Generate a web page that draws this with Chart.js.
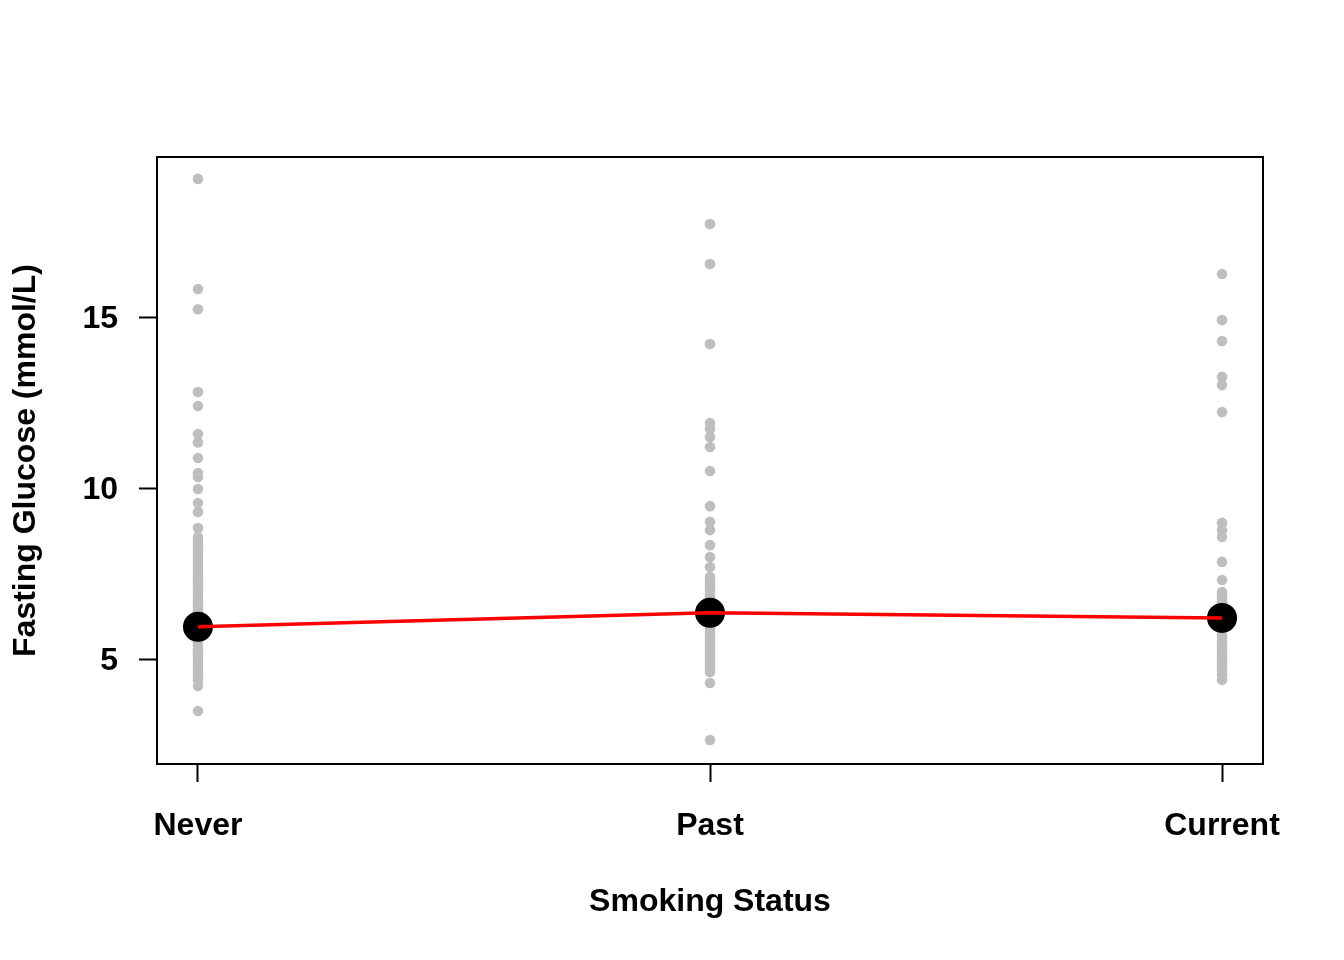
<!DOCTYPE html>
<html>
<head>
<meta charset="utf-8">
<script src="https://cdn.jsdelivr.net/npm/chart.js@4/dist/chart.umd.min.js"></script>
<style>
html,body{margin:0;padding:0;background:#fff;}
#wrap{width:1344px;height:960px;}
</style>
</head>
<body>
<div id="wrap"><canvas id="c" width="1344" height="960"></canvas></div>
<script>
const categories = ['Never', 'Past', 'Current'];
const yTickValues = [5, 10, 15];
const neverValues = [19.04, 15.82, 15.23, 12.81, 12.40, 11.58, 11.33, 10.88, 10.44, 10.32, 9.97, 9.56, 9.30, 8.83,
  8.57, 8.45, 8.33, 8.21, 8.10, 7.98, 7.87, 7.75, 7.62, 7.50, 7.40, 7.30, 7.20, 7.10, 7.00, 6.90, 6.80, 6.70,
  6.60, 6.50, 6.40, 6.30, 6.20, 6.10, 6.00, 5.90, 5.80, 5.70, 5.60, 5.50, 5.40, 5.30, 5.20, 5.10, 5.00, 4.90,
  4.80, 4.70, 4.60, 4.50, 4.39, 4.21, 3.48];
const pastValues = [17.72, 16.55, 14.21, 11.90, 11.73, 11.49, 11.20, 10.50, 9.47, 9.01, 8.77, 8.33, 7.98, 7.69,
  7.40, 7.30, 7.20, 7.10, 7.00, 6.90, 6.80, 6.70, 6.60, 6.50, 6.40, 6.30, 6.20, 6.10, 6.00, 5.90, 5.80, 5.70,
  5.60, 5.50, 5.40, 5.30, 5.20, 5.10, 5.00, 4.90, 4.80, 4.70, 4.62, 4.30, 2.63];
const currentValues = [16.26, 14.91, 14.30, 13.25, 13.01, 12.22, 8.98, 8.77, 8.57, 7.84, 7.31, 6.96, 6.85, 6.75,
  6.65, 6.55, 6.45, 6.35, 6.25, 6.15, 6.05, 5.95, 5.85, 5.75, 5.65, 5.55, 5.45, 5.35, 5.25, 5.15, 5.05, 4.95,
  4.85, 4.75, 4.65, 4.53, 4.39];
const meanValues = [5.94, 6.35, 6.20];

const groups = [neverValues, pastValues, currentValues];
const rawPoints = [];
groups.forEach((vals, i) => vals.forEach(v => rawPoints.push({x: i + 1, y: v})));
const meanPoints = meanValues.map((v, i) => ({x: i + 1, y: v}));

const FONT = {family: '"Liberation Sans", Arial, sans-serif', size: 32, weight: 'bold', lineHeight: 1.2};

const boxPlugin = {
  id: 'box',
  afterDraw(chart) {
    const {ctx, chartArea: a} = chart;
    ctx.save();
    ctx.strokeStyle = '#000';
    ctx.lineWidth = 2;
    ctx.strokeRect(a.left, a.top, a.right - a.left, a.bottom - a.top);
    ctx.restore();
  }
};

new Chart(document.getElementById('c'), {
  type: 'scatter',
  data: {
    datasets: [
      {data: meanPoints, showLine: true, borderColor: '#FF0000', borderWidth: 3.5, pointRadius: 0, order: 0},
      {data: meanPoints, pointRadius: 15, pointBackgroundColor: '#000', pointBorderWidth: 0, order: 1},
      {data: rawPoints, pointRadius: 5.3, pointBackgroundColor: '#BEBEBE', pointBorderWidth: 0, order: 2}
    ]
  },
  options: {
    responsive: false,
    animation: false,
    events: [],
    layout: {padding: {top: 157, right: 81, left: 0, bottom: 0}},
    plugins: {legend: {display: false}, tooltip: {enabled: false}},
    scales: {
      x: {
        type: 'linear', min: 0.92, max: 3.08,
        afterBuildTicks: s => { s.ticks = categories.map((c, i) => ({value: i + 1})); },
        afterFit: s => { s.height = 196; },
        grid: {drawOnChartArea: false, drawTicks: true, tickLength: 18, tickWidth: 2, tickColor: '#000'},
        border: {display: false},
        ticks: {color: '#000', font: FONT, padding: 25, maxRotation: 0, autoSkip: false,
          callback: v => categories[Math.round(v) - 1]},
        title: {display: true, text: 'Smoking Status', color: '#000', font: FONT, padding: {bottom: 39, top: 0}}
      },
      y: {
        type: 'linear', min: 1.93, max: 19.68,
        afterBuildTicks: s => { s.ticks = yTickValues.map(v => ({value: v})); },
        afterFit: s => { s.width = 157; },
        grid: {drawOnChartArea: false, drawTicks: true, tickLength: 18, tickWidth: 2, tickColor: '#000'},
        border: {display: false},
        ticks: {color: '#000', font: FONT, padding: 21, labelOffset: 2, callback: v => String(v)},
        title: {display: true, text: 'Fasting Glucose (mmol/L)', color: '#000', font: FONT, padding: {top: 7, bottom: 0}}
      }
    }
  },
  plugins: [boxPlugin]
});
</script>
</body>
</html>
